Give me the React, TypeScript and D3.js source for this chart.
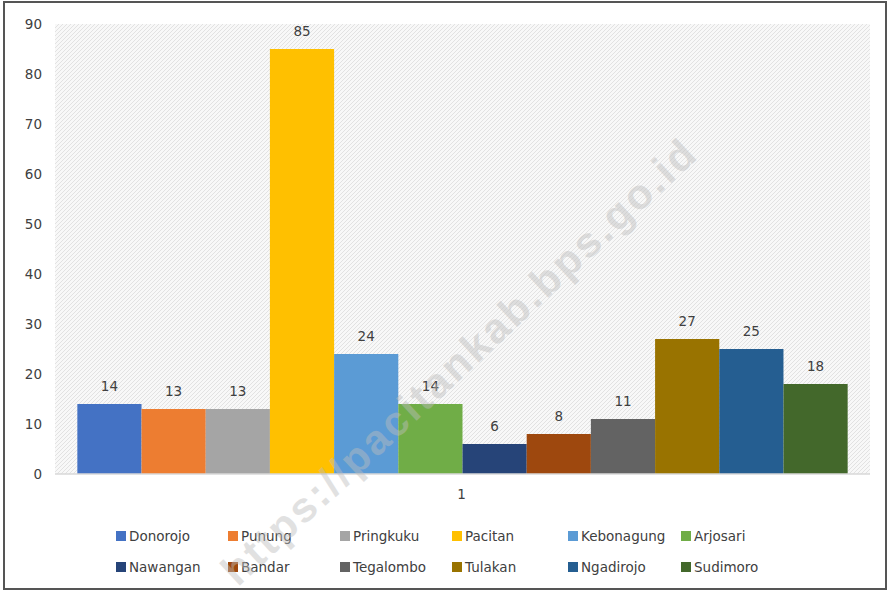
import React, { useEffect, useRef } from 'react'
import * as d3 from 'd3'

// kecamatan names, one series each, one category "1"
const districts = [
  'Donorojo', 'Punung', 'Pringkuku', 'Pacitan', 'Kebonagung', 'Arjosari',
  'Nawangan', 'Bandar', 'Tegalombo', 'Tulakan', 'Ngadirojo', 'Sudimoro'
]
const values = [14, 13, 13, 85, 24, 14, 6, 8, 11, 27, 25, 18]
const colors = [
  '#4472C4', '#ED7D31', '#A5A5A5', '#FFC000', '#5B9BD5', '#70AD47',
  '#264478', '#9E480E', '#636363', '#997300', '#255E91', '#43682B'
]
const categories = ['1']
const yTicks = [0, 10, 20, 30, 40, 50, 60, 70, 80, 90]

const W = 891
const H = 592
const FONT = '"DejaVu Sans", Verdana, sans-serif'

const App: React.FC = () => {
  const svgRef = useRef<SVGSVGElement>(null)

  useEffect(() => {
    if (!svgRef.current) return
    const svg = d3.select(svgRef.current)
    svg.selectAll('*').remove()

    const margin = { top: 24, right: 21, bottom: 118, left: 55 }
    const width = W - margin.left - margin.right
    const height = H - margin.top - margin.bottom

    // hatched plot background
    const defs = svg.append('defs')
    const pat = defs.append('pattern')
      .attr('id', 'hatch')
      .attr('patternUnits', 'userSpaceOnUse')
      .attr('width', 4)
      .attr('height', 4)
    pat.append('rect').attr('width', 4).attr('height', 4).attr('fill', '#f8f8f8')
    pat.append('path')
      .attr('d', 'M-1,1 l2,-2 M0,4 l4,-4 M3,5 l2,-2')
      .attr('stroke', '#e2e2e2')
      .attr('stroke-width', 1)

    svg.append('rect')
      .attr('x', 0).attr('y', 0).attr('width', W).attr('height', H)
      .attr('fill', '#fff')

    // frame
    svg.append('rect')
      .attr('x', 4).attr('y', 2).attr('width', 882).attr('height', 587)
      .attr('fill', 'none')
      .attr('stroke', '#555')
      .attr('stroke-width', 2)

    const g = svg.append('g').attr('transform', `translate(${margin.left},${margin.top})`)

    g.append('rect')
      .attr('width', width).attr('height', height)
      .attr('fill', 'url(#hatch)')

    const x0 = d3.scaleBand().domain(categories).range([0, width]).paddingInner(0).paddingOuter(0.029)
    const x1 = d3.scaleBand().domain(districts).range([0, x0.bandwidth()]).padding(0)
    const y = d3.scaleLinear().domain([0, 90]).range([height, 0])

    // y tick labels
    g.selectAll('.ytick')
      .data(yTicks)
      .enter()
      .append('text')
      .attr('x', -13)
      .attr('y', d => y(d))
      .attr('dy', '0.35em')
      .attr('text-anchor', 'end')
      .style('font-family', FONT)
      .style('font-size', '13.5px')
      .style('fill', '#404040')
      .text(d => d)

    const group = g.append('g').attr('transform', `translate(${x0('1') ?? 0},0)`)

    group.selectAll('.bar')
      .data(values)
      .enter()
      .append('rect')
      .attr('x', (_, i) => x1(districts[i]) ?? 0)
      .attr('width', x1.bandwidth())
      .attr('y', d => y(d))
      .attr('height', d => height - y(d))
      .attr('fill', (_, i) => colors[i])

    group.selectAll('.bar-label')
      .data(values)
      .enter()
      .append('text')
      .attr('x', (_, i) => (x1(districts[i]) ?? 0) + x1.bandwidth() / 2)
      .attr('y', d => y(d) - 13)
      .attr('text-anchor', 'middle')
      .style('font-family', FONT)
      .style('font-size', '13.5px')
      .style('fill', '#404040')
      .text(d => d)

    // x axis baseline
    g.append('line')
      .attr('x1', 0).attr('x2', width)
      .attr('y1', height).attr('y2', height)
      .attr('stroke', '#d9d9d9')
      .attr('stroke-width', 1.5)

    g.selectAll('.xlabel')
      .data(categories)
      .enter()
      .append('text')
      .attr('x', d => (x0(d) ?? 0) + x0.bandwidth() / 2 - 1)
      .attr('y', height + 25)
      .attr('text-anchor', 'middle')
      .style('font-family', FONT)
      .style('font-size', '13.5px')
      .style('fill', '#404040')
      .text(d => d)

    // legend, 6 per row
    const legendX = [116, 228, 340, 452, 568, 681]
    const legendY = [536, 567]
    const legend = svg.append('g')
    districts.forEach((name, i) => {
      const lx = legendX[i % 6]
      const ly = legendY[Math.floor(i / 6)]
      legend.append('rect')
        .attr('x', lx).attr('y', ly - 5)
        .attr('width', 10).attr('height', 10)
        .attr('fill', colors[i])
      legend.append('text')
        .attr('x', lx + 13).attr('y', ly)
        .attr('dy', '0.35em')
        .style('font-family', FONT)
        .style('font-size', '13.5px')
        .style('fill', '#404040')
        .text(name)
    })

    // watermark
    svg.append('text')
      .attr('transform', 'translate(458,362) rotate(-43)')
      .attr('text-anchor', 'middle')
      .attr('dy', '0.35em')
      .attr('textLength', 630)
      .style('font-family', '"Liberation Sans", Arial, sans-serif')
      .style('font-weight', 'bold')
      .style('font-size', '42px')
      .style('fill', '#bdbdbd')
      .style('opacity', 0.45)
      .text('https://pacitankab.bps.go.id')
  }, [])

  return (
    <div style={{ position: 'absolute', left: 0, top: 0 }}>
      <svg ref={svgRef} width={W} height={H} style={{ display: 'block' }} />
    </div>
  )
}

export default App
